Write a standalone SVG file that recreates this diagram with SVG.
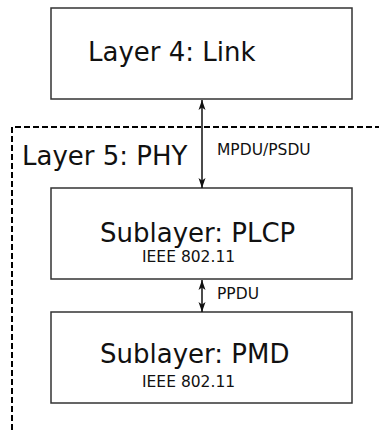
<svg xmlns="http://www.w3.org/2000/svg" width="379" height="430" viewBox="0 0 379 430">
<defs>
<style>
.box{fill:#fff;stroke:#333;stroke-width:1.5}
.big{font-family:"DejaVu Sans",sans-serif;font-size:26px;fill:#111}
.small{font-family:"DejaVu Sans",sans-serif;font-size:15.5px;fill:#111}
.conn{stroke:#111;stroke-width:1.5;fill:none}
</style>
<marker id="ah" viewBox="0 0 10 10" refX="10" refY="5" markerWidth="10" markerHeight="10" markerUnits="userSpaceOnUse" orient="auto-start-reverse">
<path d="M0,1.5 L10,5 L0,8.5 L2.5,5 Z" fill="#111"/>
</marker>
</defs>
<rect width="379" height="430" fill="#fff"/>
<g id="phy-boundary">
<path d="M12,430 V127 H379" fill="none" stroke="#000" stroke-width="2" stroke-dasharray="6,3"/>
<text class="big" x="22" y="165">Layer 5: PHY</text>
</g>
<g id="link">
<rect class="box" x="51" y="8" width="301" height="91"/>
<text class="big" x="88" y="61">Layer 4: Link</text>
</g>
<g id="plcp">
<rect class="box" x="51" y="188" width="301" height="91"/>
<text class="big" x="100" y="242">Sublayer: PLCP</text>
<text class="small" x="142" y="262">IEEE 802.11</text>
</g>
<g id="pmd">
<rect class="box" x="51" y="312" width="301" height="91"/>
<text class="big" x="100" y="363">Sublayer: PMD</text>
<text class="small" x="142" y="387">IEEE 802.11</text>
</g>
<g id="connectors">
<line class="conn" x1="202" y1="100" x2="202" y2="188" marker-start="url(#ah)" marker-end="url(#ah)"/>
<text class="small" x="217" y="155">MPDU/PSDU</text>
<line class="conn" x1="202" y1="280" x2="202" y2="312" marker-start="url(#ah)" marker-end="url(#ah)"/>
<text class="small" x="217" y="299">PPDU</text>
</g>
</svg>
